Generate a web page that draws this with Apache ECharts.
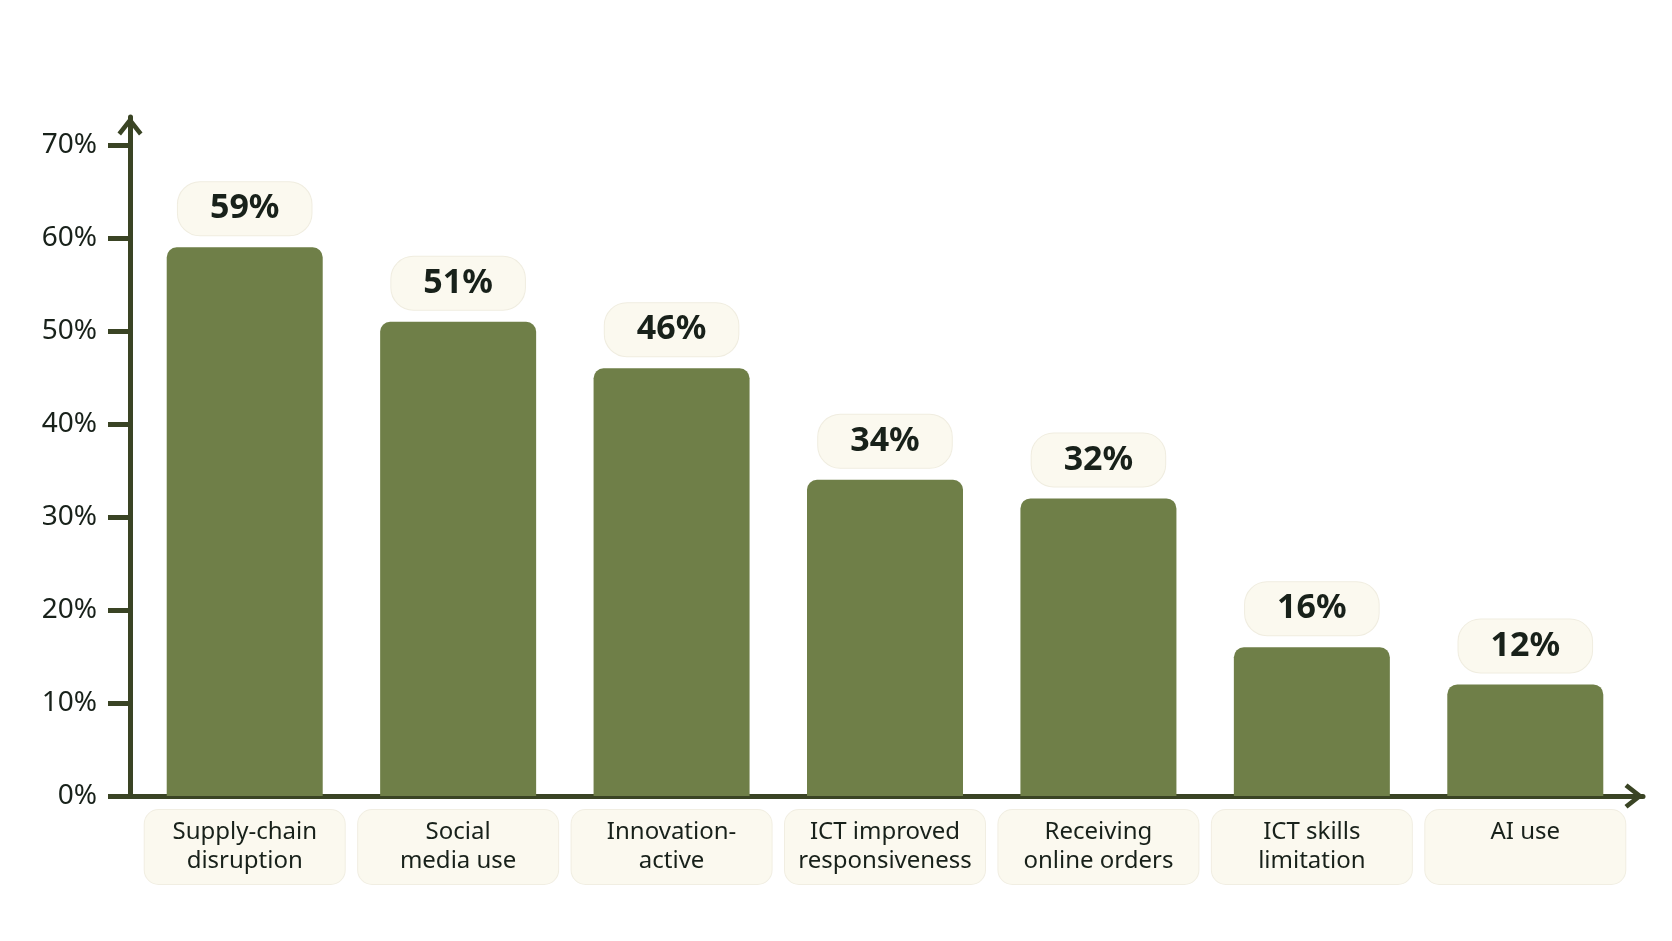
<!DOCTYPE html>
<html>
<head>
<meta charset="utf-8">
<script src="https://cdn.jsdelivr.net/npm/echarts@6/dist/echarts.min.js"></script>
<style>
html,body{margin:0;padding:0;background:#ffffff;}
#chart{width:1672px;height:941px;}
</style>
</head>
<body>
<div id="chart"></div>
<script>
const categories = [
  'Supply-chain\ndisruption',
  'Social\nmedia use',
  'Innovation-\nactive',
  'ICT improved\nresponsiveness',
  'Receiving\nonline orders',
  'ICT skills\nlimitation',
  'AI use'
];
const values = [59, 51, 46, 34, 32, 16, 12];
const yMin = 0, yMax = 70, yStep = 10;

const AXIS = '#3a4424';
const BAR = '#6f7f48';
const CREAM = '#fbf9ef';
const TEXT = '#18211a';
const FONT = '"Noto Sans", "Open Sans", sans-serif';
const chevron = 'path://M0,16 L12.5,0 L25,16 L21.5,19 L12.5,7.5 L3.5,19 Z';

const chart = echarts.init(document.getElementById('chart'), null, {renderer: 'canvas'});
chart.setOption({
  backgroundColor: '#ffffff',
  animation: false,
  grid: [
    {left: 138, right: 40, top: 145, bottom: 145},
    {left: 130, right: 29, top: 117, bottom: 145}
  ],
  xAxis: [
    {
      type: 'category', gridIndex: 0, data: categories,
      axisLine: {show: false}, axisTick: {show: false},
      axisLabel: {
        interval: 0, margin: 14, fontFamily: FONT, fontSize: 24, lineHeight: 29,
        color: TEXT, backgroundColor: CREAM, borderColor: '#f1eee2', borderWidth: 1,
        borderRadius: 14, padding: [8, 10], width: 180, height: 58,
        align: 'center', verticalAlign: 'top'
      }
    },
    {
      type: 'value', gridIndex: 1, min: 0, max: 1,
      axisLine: {show: true, lineStyle: {color: AXIS, width: 5, cap: 'round'},
        symbol: ['none', chevron], symbolSize: [25, 19], symbolOffset: [0, -9]},
      axisTick: {show: false}, axisLabel: {show: false}, splitLine: {show: false}
    }
  ],
  yAxis: [
    {
      type: 'value', gridIndex: 0, min: yMin, max: yMax, interval: yStep, offset: 8,
      axisLine: {show: false},
      axisTick: {show: true, length: 22, lineStyle: {color: AXIS, width: 5}},
      splitLine: {show: false},
      axisLabel: {margin: 33, fontFamily: FONT, fontSize: 28, color: TEXT,
        formatter: v => v + '%'}
    },
    {
      type: 'value', gridIndex: 1, min: 0, max: 1,
      axisLine: {show: true, lineStyle: {color: AXIS, width: 5, cap: 'round'},
        symbol: ['none', chevron], symbolSize: [25, 19], symbolOffset: [0, -9]},
      axisTick: {show: false}, axisLabel: {show: false}, splitLine: {show: false}
    }
  ],
  series: [
    {
      type: 'bar', xAxisIndex: 0, yAxisIndex: 0, data: values, barWidth: 156,
      itemStyle: {color: BAR, borderRadius: [10, 10, 0, 0]},
      label: {
        show: true, position: 'top', distance: 12,
        formatter: p => p.value + '%',
        fontFamily: FONT, fontSize: 34, fontWeight: 'bold', color: TEXT,
        backgroundColor: CREAM, borderColor: '#f0ede0', borderWidth: 1,
        borderRadius: 22, padding: [9, 32], lineHeight: 35
      }
    }
  ]
});
</script>
</body>
</html>
